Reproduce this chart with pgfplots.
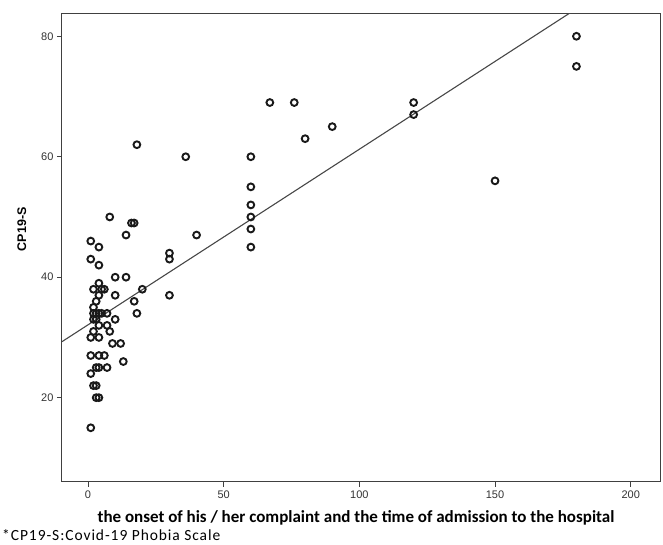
\documentclass[border=0pt]{standalone}
\usepackage{fontspec}
\setmainfont{Liberation Sans}
\newfontfamily\calfont{Carlito}
\newfontfamily\calfontwide[LetterSpace=6]{Carlito}
\usepackage{pgfplots}
\pgfplotsset{compat=1.18}
\begin{document}
\begin{tikzpicture}[x=1pt,y=1pt]
\begin{axis}[
  at={(0,0)}, anchor=south west, scale only axis,
  width=598pt, height=468pt,
  xmin=-9.6, xmax=210.8, ymin=6, ymax=83.7,
  xtick={0,50,100,150,200}, ytick={20,40,60,80},
  tick align=outside, tick pos=left, major tick length=5pt,
  axis line style={draw=black!75, line width=1pt},
  every tick/.style={draw=black!75, line width=1pt},
  ticklabel style={font=\fontsize{11}{12}\selectfont, text=black!80},
  /pgf/number format/assume math mode=true,
  ylabel={\bfseries CP19-S},
  ylabel style={font=\fontsize{12.5}{14}\selectfont, at={(axis description cs:-0.067,0.54)}, anchor=center},
  clip=true,
]
\addplot[only marks, mark=o, mark size=3.4pt, mark options={line width=1.9pt, draw=black!90}] coordinates {
(180,80) (180,75) (150,56) (120,69) (120,67) (90,65) (80,63) (76,69) (67,69)
(60,60) (60,55) (60,52) (60,50) (60,48) (60,45)
(40,47) (36,60) (30,44) (30,43) (30,37)
(20,38) (18,62) (17,36) (18,34) (16,49) (17,49) (14,47) (14,40) (12,29) (13,26)
(10,40) (10,37) (10,33) (9,29) (8,50) (8,31)
(1,46) (4,45) (1,43) (4,42) (4,39) (2,38) (5,38) (6,38) (4,37) (3,36) (2,35)
(2,34) (3,34) (4,34) (5,34) (7,34) (2,33) (3,33) (4,32) (7,32) (2,31) (1,30) (4,30)
(1,27) (4,27) (6,27) (7,25) (3,25) (4,25) (1,24) (2,22) (3,22) (3,20) (4,20) (1,15)
};
\addplot[draw=black!72, line width=1.1pt] coordinates {(-9.6,29.3) (210.8,93.55)};
\end{axis}
\node[font=\calfont\bfseries\fontsize{17}{19}\selectfont, anchor=base] at (294,-41) {the onset of his / her complaint and the time of admission to the hospital};
\node[font=\calfontwide\fontsize{15.5}{17}\selectfont, anchor=base west, inner sep=0pt] at (-60,-59) {*CP19-S:Covid-19 Phobia Scale};
\pgfresetboundingbox
\path[use as bounding box] (-62,-63) rectangle (601,482);
\end{tikzpicture}
\end{document}
